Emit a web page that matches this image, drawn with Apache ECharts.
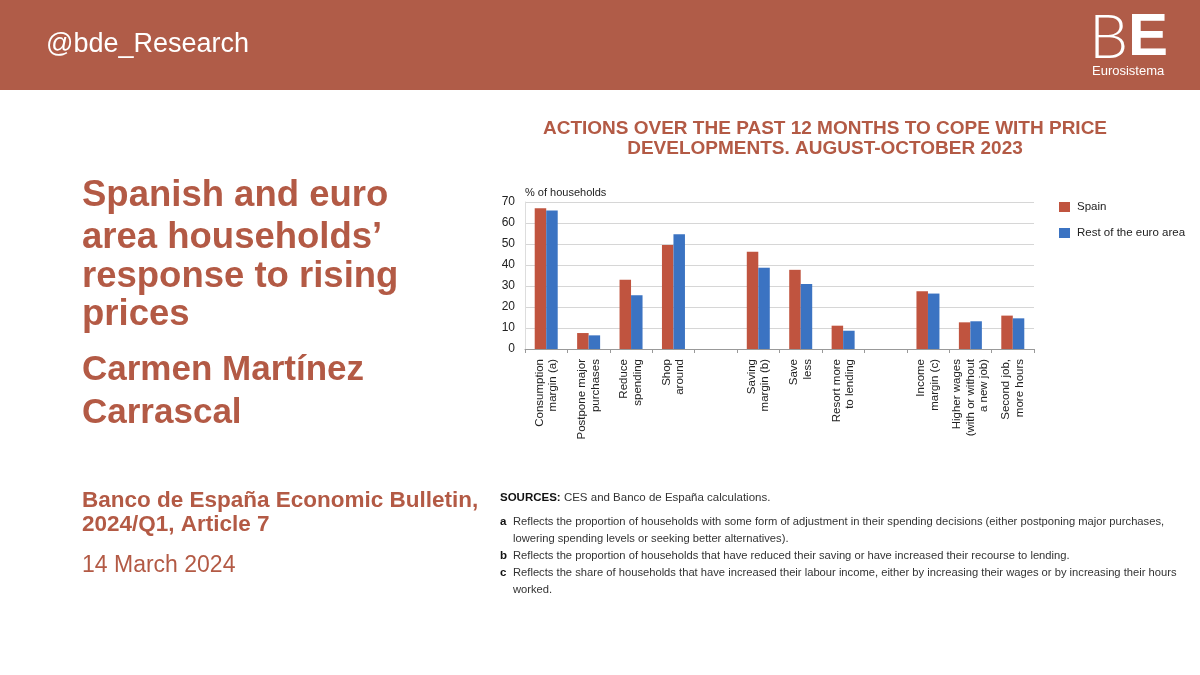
<!DOCTYPE html>
<html>
<head>
<meta charset="utf-8">
<script src="https://cdn.jsdelivr.net/npm/echarts@6/dist/echarts.min.js"></script>
<style>
html,body{margin:0;padding:0;background:#fff;}
#chart{width:1200px;height:675px;}
</style>
</head>
<body>
<div id="chart"></div>
<script>
// ---- data ----
var categories = ['Consumption\nmargin (a)', 'Postpone major\npurchases', 'Reduce\nspending', 'Shop\naround', '',
  'Saving\nmargin (b)', 'Save\nless', 'Resort more\nto lending', '',
  'Income\nmargin (c)', 'Higher wages\n(with or without\na new job)', 'Second job,\nmore hours'];
var spain = [67, 7.6, 33, 49.5, null, 46.3, 37.7, 11.1, null, 27.5, 12.7, 15.9];
var restEuro = [66, 6.5, 25.6, 54.6, null, 38.7, 31.0, 8.7, null, 26.4, 13.2, 14.6];
var seriesNames = ['Spain', 'Rest of the euro area'];
var yTicks = [0, 10, 20, 30, 40, 50, 60, 70];
var chartTitle = ['ACTIONS OVER THE PAST 12 MONTHS TO COPE WITH PRICE', 'DEVELOPMENTS. AUGUST-OCTOBER 2023'];
var slideTitle = ['Spanish and euro', 'area households\u2019', 'response to rising', 'prices'];
var author = ['Carmen Mart\u00ednez', 'Carrascal'];
var pubLines = ['Banco de Espa\u00f1a Economic Bulletin,', '2024/Q1, Article 7'];
var dateLine = '14 March 2024';
var notes = [
  ['a', 'Reflects the proportion of households with some form of adjustment in their spending decisions (either postponing major purchases,'],
  ['', 'lowering spending levels or seeking better alternatives).'],
  ['b', 'Reflects the proportion of households that have reduced their saving or have increased their recourse to lending.'],
  ['c', 'Reflects the share of households that have increased their labour income, either by increasing their wages or by increasing their hours'],
  ['', 'worked.']
];

var RED = '#b35a45';
var FONT = '"Liberation Sans", Arial, Helvetica, sans-serif';

var graphics = [];
graphics.push({type:'rect', left:0, top:0, shape:{x:0,y:0,width:1200,height:90}, style:{fill:'#b05c48'}, z:0});
graphics.push({type:'text', x:46, y:45, style:{text:'@bde_Research', fill:'#fff', font:'27px ' + FONT, align:'left', verticalAlign:'middle'}});
graphics.push({type:'text', x:1089, y:38, style:{text:'B', fill:'#fff', font:'300 62px Lato, ' + FONT, align:'left', verticalAlign:'middle'}});
graphics.push({type:'text', x:1128, y:38, style:{text:'E', fill:'#fff', font:'bold 60px ' + FONT, align:'left', verticalAlign:'middle'}});
graphics.push({type:'text', x:1092, y:71, style:{text:'Eurosistema', fill:'#fff', font:'13px ' + FONT, align:'left', verticalAlign:'middle'}});

// slide title
var tY = [196, 238, 277, 315];
slideTitle.forEach(function(t, i){
  graphics.push({type:'text', x:82, y:tY[i], style:{text:t, fill:RED, font:'bold 36.5px ' + FONT, align:'left', verticalAlign:'middle'}});
});
var aY = [370, 413];
author.forEach(function(t, i){
  graphics.push({type:'text', x:82, y:aY[i], style:{text:t, fill:RED, font:'bold 35px ' + FONT, align:'left', verticalAlign:'middle'}});
});
var pY = [501, 525];
pubLines.forEach(function(t, i){
  graphics.push({type:'text', x:82, y:pY[i], style:{text:t, fill:RED, font:'bold 22.5px ' + FONT, align:'left', verticalAlign:'middle'}});
});
graphics.push({type:'text', x:82, y:566, style:{text:dateLine, fill:RED, font:'23px ' + FONT, align:'left', verticalAlign:'middle'}});

// chart title
var cY = [129, 149];
chartTitle.forEach(function(t, i){
  graphics.push({type:'text', x:825, y:cY[i], style:{text:t, fill:RED, font:'bold 19px ' + FONT, align:'center', verticalAlign:'middle'}});
});
graphics.push({type:'text', x:525, y:193, style:{text:'% of households', fill:'#222', font:'11px ' + FONT, align:'left', verticalAlign:'middle'}});

// footnotes
graphics.push({type:'text', x:500, y:498, style:{
  text:'{b|SOURCES:} CES and Banco de Espa\u00f1a calculations.',
  rich:{b:{font:'bold 11.5px ' + FONT, fill:'#111'}},
  fill:'#333', font:'11.5px ' + FONT, align:'left', verticalAlign:'middle'}});
var nY = [522, 539, 556, 573, 590];
notes.forEach(function(n, i){
  if (n[0]) graphics.push({type:'text', x:500, y:nY[i], style:{text:n[0], fill:'#111', font:'bold 11.5px ' + FONT, align:'left', verticalAlign:'middle'}});
  graphics.push({type:'text', x:513, y:nY[i], style:{text:n[1], fill:'#333', font:'11.2px ' + FONT, align:'left', verticalAlign:'middle'}});
});

var chart = echarts.init(document.getElementById('chart'), null, {renderer:'canvas'});
chart.setOption({
  animation:false,
  backgroundColor:'#fff',
  textStyle:{fontFamily:FONT},
  grid:{left:525, right:166, top:202, bottom:326, containLabel:false},
  legend:{
    orient:'vertical', left:1059, top:201, padding:0,
    itemWidth:11, itemHeight:10, itemGap:14,
    icon:'rect',
    textStyle:{fontSize:11.5, color:'#222', fontFamily:FONT, padding:[0,0,0,2]},
    data:seriesNames
  },
  xAxis:{
    type:'category', data:categories,
    axisLine:{lineStyle:{color:'#999', width:1}},
    axisTick:{show:true, length:4, lineStyle:{color:'#999'}},
    axisLabel:{rotate:90, fontSize:11.5, lineHeight:13.5, color:'#222', margin:10, interval:0, fontFamily:FONT}
  },
  yAxis:{
    type:'value', min:0, max:70, interval:10,
    axisLine:{show:true, lineStyle:{color:'#ddd'}},
    axisTick:{show:false},
    axisLabel:{fontSize:12, color:'#222', margin:10, fontFamily:FONT,
      formatter:function(v){ return yTicks.indexOf(v) >= 0 ? String(v) : ''; }},
    splitLine:{lineStyle:{color:'#d6d6d6', width:1.2}}
  },
  series:[
    {name:seriesNames[0], type:'bar', data:spain, barWidth:11.5, barGap:'0%', itemStyle:{color:'#c0543f'}},
    {name:seriesNames[1], type:'bar', data:restEuro, barWidth:11.5, barGap:'0%', itemStyle:{color:'#3b73c2'}}
  ],
  graphic:graphics
});
</script>
</body>
</html>
